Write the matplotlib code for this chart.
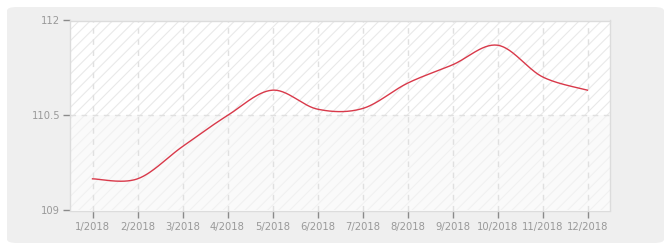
import numpy as np
import matplotlib
matplotlib.use("Agg")
import matplotlib.pyplot as plt
from matplotlib import font_manager
from matplotlib.patches import FancyBboxPatch, Rectangle

labels = ["1/2018", "2/2018", "3/2018", "4/2018", "5/2018", "6/2018",
          "7/2018", "8/2018", "9/2018", "10/2018", "11/2018", "12/2018"]
values = [109.50, 109.50, 110.01, 110.50, 110.90, 110.60,
          110.61, 111.01, 111.30, 111.61, 111.11, 110.90]
yticks = [109, 110.5, 112]
ytick_labels = ["109", "110.5", "112"]

names = {f.name for f in font_manager.fontManager.ttflist}
fam = 'DejaVu Sans Condensed' if 'DejaVu Sans Condensed' in names else 'DejaVu Sans'
plt.rcParams['font.family'] = [fam, 'DejaVu Sans']
plt.rcParams['font.stretch'] = 'condensed'
plt.rcParams['hatch.linewidth'] = 0.8

W, H = 670, 250
fig = plt.figure(figsize=(W / 100, H / 100), dpi=100)
fig.patch.set_facecolor("white")

# outer rounded panel
bg = FancyBboxPatch((7 / W, 7 / H), (664 - 7) / W, (243 - 7) / H,
                    boxstyle="round,pad=0,rounding_size=0.015",
                    transform=fig.transFigure, facecolor="#efefef",
                    edgecolor="none", zorder=-10)
fig.patches.append(bg)

left, right, top, bottom = 70, 610, 20.5, 210.5
ax = fig.add_axes([left / W, 1 - bottom / H, (right - left) / W, (bottom - top) / H])
ax.set_zorder(1)
ax.set_facecolor("white")
ax.set_xlim(-0.5, len(labels) - 0.5)
ax.set_ylim(yticks[0], yticks[-1])

# banded hatched background
ax.add_patch(Rectangle((-0.5, yticks[1]), len(labels), yticks[2] - yticks[1],
                       facecolor="white", edgecolor="#e9e9e9", hatch="///",
                       linewidth=0, zorder=0))
ax.add_patch(Rectangle((-0.5, yticks[0]), len(labels), yticks[1] - yticks[0],
                       facecolor="#fafafa", edgecolor="#f1f1f1", hatch="///",
                       linewidth=0, zorder=0))

# grid
x = np.arange(len(labels))
for xi in x:
    ax.axvline(xi, color="#e0e0e0", lw=1, ls=(0, (4, 4)), zorder=1)
ax.axhline(yticks[1], color="#e0e0e0", lw=1, ls=(0, (4, 4)), zorder=1)

# Catmull-Rom smoothing for drawing the line
def catmull(xs, ys, n=30):
    xs = np.asarray(xs, float); ys = np.asarray(ys, float)
    px = np.concatenate([[xs[0]], xs, [xs[-1]]])
    py = np.concatenate([[ys[0]], ys, [ys[-1]]])
    ox, oy = [], []
    for i in range(1, len(px) - 2):
        t = np.linspace(0, 1, n, endpoint=False)
        for p, o in ((px, ox), (py, oy)):
            p0, p1, p2, p3 = p[i - 1], p[i], p[i + 1], p[i + 2]
            o.extend(0.5 * ((2 * p1) + (-p0 + p2) * t +
                            (2 * p0 - 5 * p1 + 4 * p2 - p3) * t ** 2 +
                            (-p0 + 3 * p1 - 3 * p2 + p3) * t ** 3))
    ox.append(xs[-1]); oy.append(ys[-1])
    return np.array(ox), np.array(oy)

sx, sy = catmull(x, values)
ax.plot(sx, sy, color="#d9394a", lw=1.0, zorder=3)

# axes styling
for s in ax.spines.values():
    s.set_color("#dcdcdc")
    s.set_linewidth(1)
ax.set_xticks(x)
ax.set_xticklabels(labels)
ax.set_yticks(yticks)
ax.set_yticklabels(ytick_labels)
ax.tick_params(axis="both", colors="#8a8a8a", labelcolor="#999999",
               labelsize=8, length=5, width=1)
ax.tick_params(axis="x", pad=3)
ax.tick_params(axis="y", pad=2)

fig.savefig("out.png", dpi=100, facecolor="white")
